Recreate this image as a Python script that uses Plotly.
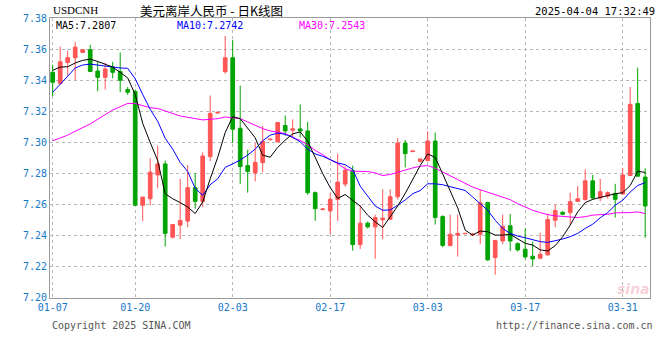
import plotly.graph_objects as go

# ---- data ----
opens = [7.3451, 7.3379, 7.3515, 7.3545, 7.3579, 7.3596, 7.3460, 7.3419, 7.3485, 7.3457,
         7.3340, 7.3328, 7.2596, 7.2638, 7.2791, 7.2862, 7.2391, 7.2468, 7.2494, 7.2709,
         7.2621, 7.2909, 7.3189, 7.3455, 7.3545, 7.3091, 7.2851, 7.2804, 7.2870, 7.3017,
         7.3004, 7.3109, 7.3079, 7.3087, 7.3074, 7.2677, 7.2568, 7.2560, 7.2634, 7.2732,
         7.2819, 7.2343, 7.2481, 7.2457, 7.2502, 7.2506, 7.2651, 7.2996, 7.2941, 7.2879,
         7.2883, 7.3009, 7.2523, 7.2336, 7.2404, 7.2413, 7.2405, 7.2409, 7.2613, 7.2260,
         7.2366, 7.2464, 7.2349, 7.2313, 7.2268, 7.2255, 7.2277, 7.2500, 7.2551, 7.2549,
         7.2621, 7.2632, 7.2753, 7.2643, 7.2655, 7.2672, 7.2668, 7.2787, 7.3251, 7.2777]
highs = [7.3500, 7.3617, 7.3591, 7.3647, 7.3600, 7.3628, 7.3521, 7.3511, 7.3519, 7.3579,
         7.3357, 7.3340, 7.2649, 7.2898, 7.2979, 7.2883, 7.2472, 7.2766, 7.2855, 7.2804,
         7.2936, 7.3302, 7.3196, 7.3685, 7.3660, 7.3366, 7.2953, 7.2996, 7.3106, 7.3022,
         7.3130, 7.3174, 7.3149, 7.3245, 7.3132, 7.2685, 7.2575, 7.2672, 7.2928, 7.2847,
         7.2851, 7.2596, 7.2491, 7.2536, 7.2698, 7.2698, 7.3028, 7.3017, 7.2946, 7.2894,
         7.3072, 7.3064, 7.2532, 7.2536, 7.2536, 7.2418, 7.2418, 7.2696, 7.2619, 7.2370,
         7.2536, 7.2540, 7.2357, 7.2447, 7.2362, 7.2419, 7.2543, 7.2600, 7.2557, 7.2677,
         7.2719, 7.2826, 7.2791, 7.2766, 7.2685, 7.2734, 7.2836, 7.3357, 7.3481, 7.2834]
lows = [7.3298, 7.3372, 7.3430, 7.3400, 7.3577, 7.3455, 7.3330, 7.3340, 7.3413, 7.3323,
        7.3306, 7.2592, 7.2494, 7.2596, 7.2706, 7.2330, 7.2383, 7.2379, 7.2455, 7.2574,
        7.2585, 7.2880, 7.3187, 7.3443, 7.2996, 7.2734, 7.2677, 7.2749, 7.2809, 7.3015,
        7.3000, 7.3043, 7.3032, 7.3032, 7.2662, 7.2496, 7.2565, 7.2411, 7.2496, 7.2715,
        7.2304, 7.2315, 7.2447, 7.2251, 7.2379, 7.2506, 7.2634, 7.2840, 7.2940, 7.2868,
        7.2879, 7.2472, 7.2326, 7.2334, 7.2266, 7.2410, 7.2398, 7.2345, 7.2238, 7.2149,
        7.2345, 7.2302, 7.2298, 7.2251, 7.2206, 7.2253, 7.2272, 7.2455, 7.2532, 7.2468,
        7.2617, 7.2628, 7.2634, 7.2621, 7.2638, 7.2517, 7.2668, 7.2787, 7.2781, 7.2387]
closes = [7.3387, 7.3519, 7.3545, 7.3613, 7.3596, 7.3457, 7.3419, 7.3472, 7.3451, 7.3400,
          7.3323, 7.2596, 7.2649, 7.2809, 7.2862, 7.2415, 7.2472, 7.2498, 7.2709, 7.2621,
          7.2913, 7.3187, 7.3194, 7.3545, 7.3085, 7.2845, 7.2813, 7.2872, 7.3006, 7.3021,
          7.3128, 7.3074, 7.3087, 7.3074, 7.2677, 7.2574, 7.2572, 7.2634, 7.2745, 7.2821,
          7.2343, 7.2481, 7.2457, 7.2517, 7.2513, 7.2651, 7.2996, 7.2928, 7.2945, 7.2894,
          7.3009, 7.2517, 7.2338, 7.2409, 7.2415, 7.2415, 7.2410, 7.2611, 7.2245, 7.2370,
          7.2460, 7.2366, 7.2309, 7.2264, 7.2251, 7.2281, 7.2504, 7.2562, 7.2538, 7.2619,
          7.2638, 7.2753, 7.2643, 7.2683, 7.2677, 7.2634, 7.2791, 7.3245, 7.2783, 7.2591]

ma5 = [7.3464, 7.3485, 7.3487, 7.3511, 7.3528, 7.3536, 7.3521, 7.3502, 7.3485, 7.3451,
       7.3415, 7.3309, 7.3123, 7.3000, 7.2883, 7.2670, 7.2638, 7.2613, 7.2585, 7.2543,
       7.2617, 7.2766, 7.2904, 7.3064, 7.3166, 7.3153, 7.3090, 7.3030, 7.2918, 7.2905,
       7.2968, 7.3015, 7.3055, 7.3068, 7.3008, 7.2900, 7.2800, 7.2710, 7.2640, 7.2665,
       7.2630, 7.2591, 7.2532, 7.2489, 7.2453, 7.2523, 7.2591, 7.2672, 7.2766, 7.2851,
       7.2926, 7.2904, 7.2798, 7.2691, 7.2579, 7.2436, 7.2404, 7.2430, 7.2426, 7.2404,
       7.2404, 7.2409, 7.2379, 7.2351, 7.2340, 7.2309, 7.2302, 7.2336, 7.2394, 7.2468,
       7.2553, 7.2613, 7.2634, 7.2647, 7.2660, 7.2670, 7.2677, 7.2723, 7.2815, 7.2807]
ma10 = [7.3323, 7.3372, 7.3426, 7.3479, 7.3498, 7.3504, 7.3498, 7.3489, 7.3483, 7.3479,
        7.3477, 7.3410, 7.3309, 7.3213, 7.3136, 7.3027, 7.2957, 7.2872, 7.2813, 7.2705,
        7.2660, 7.2728, 7.2766, 7.2840, 7.2862, 7.2887, 7.2919, 7.2957, 7.3011, 7.3047,
        7.3060, 7.3052, 7.3034, 7.3004, 7.2957, 7.2926, 7.2911, 7.2889, 7.2868, 7.2857,
        7.2826, 7.2719, 7.2651, 7.2591, 7.2564, 7.2566, 7.2596, 7.2630, 7.2670, 7.2691,
        7.2734, 7.2734, 7.2728, 7.2717, 7.2706, 7.2691, 7.2649, 7.2606, 7.2564, 7.2500,
        7.2447, 7.2415, 7.2398, 7.2387, 7.2372, 7.2362, 7.2357, 7.2366, 7.2379, 7.2394,
        7.2415, 7.2447, 7.2474, 7.2515, 7.2549, 7.2596, 7.2628, 7.2681, 7.2723, 7.2742]
ma30 = [7.3011, 7.3028, 7.3047, 7.3072, 7.3096, 7.3119, 7.3149, 7.3181, 7.3209, 7.3230,
        7.3251, 7.3251, 7.3238, 7.3223, 7.3219, 7.3202, 7.3187, 7.3170, 7.3162, 7.3155,
        7.3145, 7.3149, 7.3153, 7.3164, 7.3160, 7.3153, 7.3132, 7.3111, 7.3089, 7.3074,
        7.3068, 7.3058, 7.3030, 7.3013, 7.2985, 7.2949, 7.2921, 7.2889, 7.2864, 7.2830,
        7.2815, 7.2813, 7.2813, 7.2804, 7.2787, 7.2794, 7.2809, 7.2820, 7.2836, 7.2847,
        7.2851, 7.2834, 7.2809, 7.2783, 7.2760, 7.2734, 7.2713, 7.2696, 7.2681, 7.2664,
        7.2647, 7.2632, 7.2606, 7.2585, 7.2564, 7.2549, 7.2536, 7.2528, 7.2523, 7.2519,
        7.2517, 7.2523, 7.2532, 7.2536, 7.2538, 7.2547, 7.2547, 7.2549, 7.2553, 7.2543]

tick_labels = ["01-07", "01-20", "02-03", "02-17", "03-03", "03-17", "03-31"]
tick_index = [0, 11, 24, 37, 50, 63, 76]
y_ticks = [7.20, 7.22, 7.24, 7.26, 7.28, 7.30, 7.32, 7.34, 7.36, 7.38]

# ---- styling ----
RED = "#FF5555"
GREEN = "#00A400"
BLUE_TXT = "#1478C8"
MONO = "DejaVu Sans Mono"
GRID = "#B8B8B8"
FRAME = "#9A9A9A"

x = list(range(len(opens)))

fig = go.Figure()
fig.add_trace(go.Candlestick(
    x=x, open=opens, high=highs, low=lows, close=closes,
    increasing=dict(line=dict(color=RED, width=1), fillcolor=RED),
    decreasing=dict(line=dict(color=GREEN, width=1), fillcolor=GREEN),
    whiskerwidth=0, hoverinfo="skip", showlegend=False))
fig.add_trace(go.Scatter(x=x, y=ma30, mode="lines", line=dict(color="#FF00FF", width=1),
                         hoverinfo="skip", showlegend=False))
fig.add_trace(go.Scatter(x=x, y=ma10, mode="lines", line=dict(color="#0000FF", width=1),
                         hoverinfo="skip", showlegend=False))
fig.add_trace(go.Scatter(x=x, y=ma5, mode="lines", line=dict(color="#000000", width=1),
                         hoverinfo="skip", showlegend=False))

fig.update_layout(
    width=660, height=360,
    margin=dict(l=50, r=10, t=18, b=62),
    paper_bgcolor="white", plot_bgcolor="white",
    showlegend=False, boxgap=0.3,
    xaxis=dict(range=[-0.36, len(opens) - 0.36], tickmode="array",
               tickvals=tick_index, ticktext=tick_labels,
               showgrid=True, gridcolor=GRID, griddash="dot", gridwidth=1,
               showline=True, mirror=True, linecolor=FRAME, linewidth=1,
               ticks="", zeroline=False, rangeslider=dict(visible=False),
               tickfont=dict(family=MONO, size=10, color=BLUE_TXT), fixedrange=True),
    yaxis=dict(range=[7.19995, 7.38005], tickmode="array", tickvals=y_ticks,
               ticktext=[f"{v:.2f}" for v in y_ticks],
               showgrid=True, gridcolor=GRID, griddash="dot", gridwidth=1,
               showline=True, mirror=True, linecolor=FRAME, linewidth=1,
               ticks="", zeroline=False,
               tickfont=dict(family=MONO, size=10, color=BLUE_TXT), fixedrange=True),
)

PW, PH, L, T = 600.0, 280.0, 50.0, 18.0


def px(xp):
    return (xp - L) / PW


def py(yp):
    return (T + PH - yp) / PH


def note(text, xp, yp, anchor="left", size=10, color="black", family=MONO, pad=1):
    fig.add_annotation(text=text, xref="paper", yref="paper", x=px(xp), y=py(yp),
                       xanchor=anchor, yanchor="middle", showarrow=False, borderpad=pad,
                       font=dict(family=family, size=size, color=color))


note("USDCNH", 52, 10, size=11, family="Liberation Serif", pad=0)
note("美元离岸人民币 - 日K线图", 139, 10, size=12.5, family="Noto Sans CJK SC", pad=0)
note("2025-04-04 17:32:49", 656, 11, anchor="right", size=10.5, pad=0)
note(f"MA5:{ma5[-1]:.4f}", 55, 25, color="black", pad=0)
note(f"MA10:{ma10[-1]:.4f}", 176, 25, color="#0000FF", pad=0)
note(f"MA30:{ma30[-1]:.4f}", 298, 25, color="#FF00FF", pad=0)
note("Copyright 2025 SINA.COM", 50, 325, color="#555555")
note("http://finance.sina.com.cn", 655, 325, anchor="right", color="#555555")
note("<b><i>sina</i></b>", 633, 289, anchor="center", size=14, color="rgba(235,120,140,0.35)",
     family="DejaVu Sans")

fig.write_html("out.html", config={"displayModeBar": False, "staticPlot": True})
